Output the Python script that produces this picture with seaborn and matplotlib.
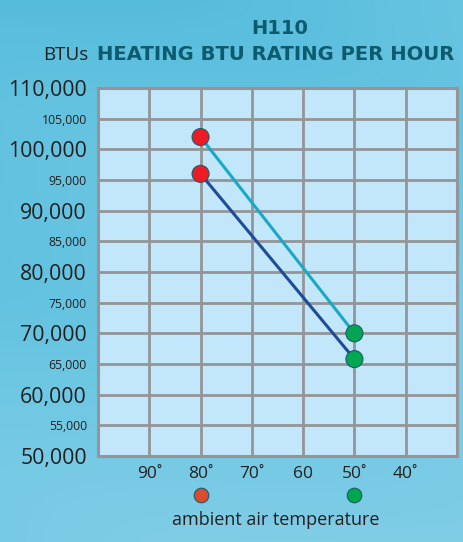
import numpy as np
import pandas as pd
import seaborn as sns
import matplotlib.pyplot as plt
from matplotlib.colors import LinearSegmentedColormap

sns.set_theme(style='white')
plt.rcParams['font.family'] = ['Open Sans', 'DejaVu Sans']

# Data
temps = [80, 50]
high_btu = [102000, 70000]
low_btu = [96000, 65800]
x_ticks = [90, 80, 70, 60, 50, 40]
x_labels = ['90˚', '80˚', '70˚', '60', '50˚', '40˚']
major_y = [50000, 60000, 70000, 80000, 90000, 100000, 110000]
minor_y = [55000, 65000, 75000, 85000, 95000, 105000]

df = pd.DataFrame({
    'temp': temps * 2,
    'btu': high_btu + low_btu,
    'series': ['high'] * 2 + ['low'] * 2,
})

fig = plt.figure(figsize=(4.63, 5.42), dpi=100)

# Water-like background
bg = fig.add_axes([0, 0, 1, 1], zorder=-10)
yy, xx = np.mgrid[0:1:300j, 0:1:300j]
grad = 0.55 * yy + 0.25 * xx + 0.08 * np.sin(9 * (yy - 0.4 * xx))
cmap = LinearSegmentedColormap.from_list('water', ['#56bcdc', '#6cc7e3', '#80cde6'])
bg.imshow(grad, cmap=cmap, aspect='auto', extent=[0, 1, 0, 1], origin='upper')
bg.axis('off')

ax = fig.add_axes([98 / 463, 1 - 456 / 542, 359 / 463, 368 / 542])
ax.set_facecolor('#c2e7fa')

sns.lineplot(data=df, x='temp', y='btu', hue='series',
             palette={'high': '#1aa9c5', 'low': '#1e4c9a'},
             linewidth=2.2, legend=False, ax=ax, zorder=3)
sns.scatterplot(data=df, x='temp', y='btu', hue='temp',
                palette={80: '#ed1c24', 50: '#00a650'},
                s=150, edgecolor='#1b5c6c', linewidth=0.8,
                legend=False, ax=ax, zorder=4)

ax.set_xlim(100, 30)
ax.set_ylim(50000, 110000)
ax.set_xticks(x_ticks)
ax.set_xticklabels(x_labels, fontsize=12.5, color='#231f20')
ax.set_yticks(major_y)
ax.set_yticklabels([f'{v:,}' for v in major_y], fontsize=15.3, color='#231f20')
ax.set_yticks(minor_y, minor=True)
ax.set_yticklabels([f'{v:,}' for v in minor_y], minor=True, fontsize=8.8, color='#231f20')
ax.tick_params(axis='both', which='both', length=0)
ax.tick_params(axis='y', which='both', pad=8)
ax.tick_params(axis='x', pad=7)

ax.grid(True, which='both', color='#939598', linewidth=2.0)
ax.set_axisbelow(True)
for s in ax.spines.values():
    s.set_color('#939598')
    s.set_linewidth(2.2)
ax.set_xlabel('')
ax.set_ylabel('')

# Titles
fig.text(280 / 463, 1 - 28 / 542, 'H110', ha='center', va='center',
         fontsize=14, fontweight='bold', color='#0d5b6e', family='DejaVu Sans')
fig.text(275.5 / 463, 1 - 55 / 542, 'HEATING BTU RATING PER HOUR', ha='center', va='center',
         fontsize=14.1, fontweight='bold', color='#0d5b6e', family='DejaVu Sans')
fig.text(88 / 463, 1 - 55 / 542, 'BTUs', ha='right', va='center',
         fontsize=13.5, color='#231f20')

# Marker legend under the x axis
for t, c in zip(temps, ['#de4a2c', '#00a650']):
    xd = ax.transData.transform((t, 50000))[0] / fig.bbox.width
    fig.lines.append(plt.Line2D([xd], [1 - 495 / 542], marker='o', markersize=10.5,
                                markerfacecolor=c, markeredgecolor='#1b5c6c',
                                markeredgewidth=0.8, transform=fig.transFigure))
fig.text(276 / 463, 1 - 520 / 542, 'ambient air temperature', ha='center', va='center',
         fontsize=13, color='#231f20')

fig.savefig('out.png', dpi=100)
